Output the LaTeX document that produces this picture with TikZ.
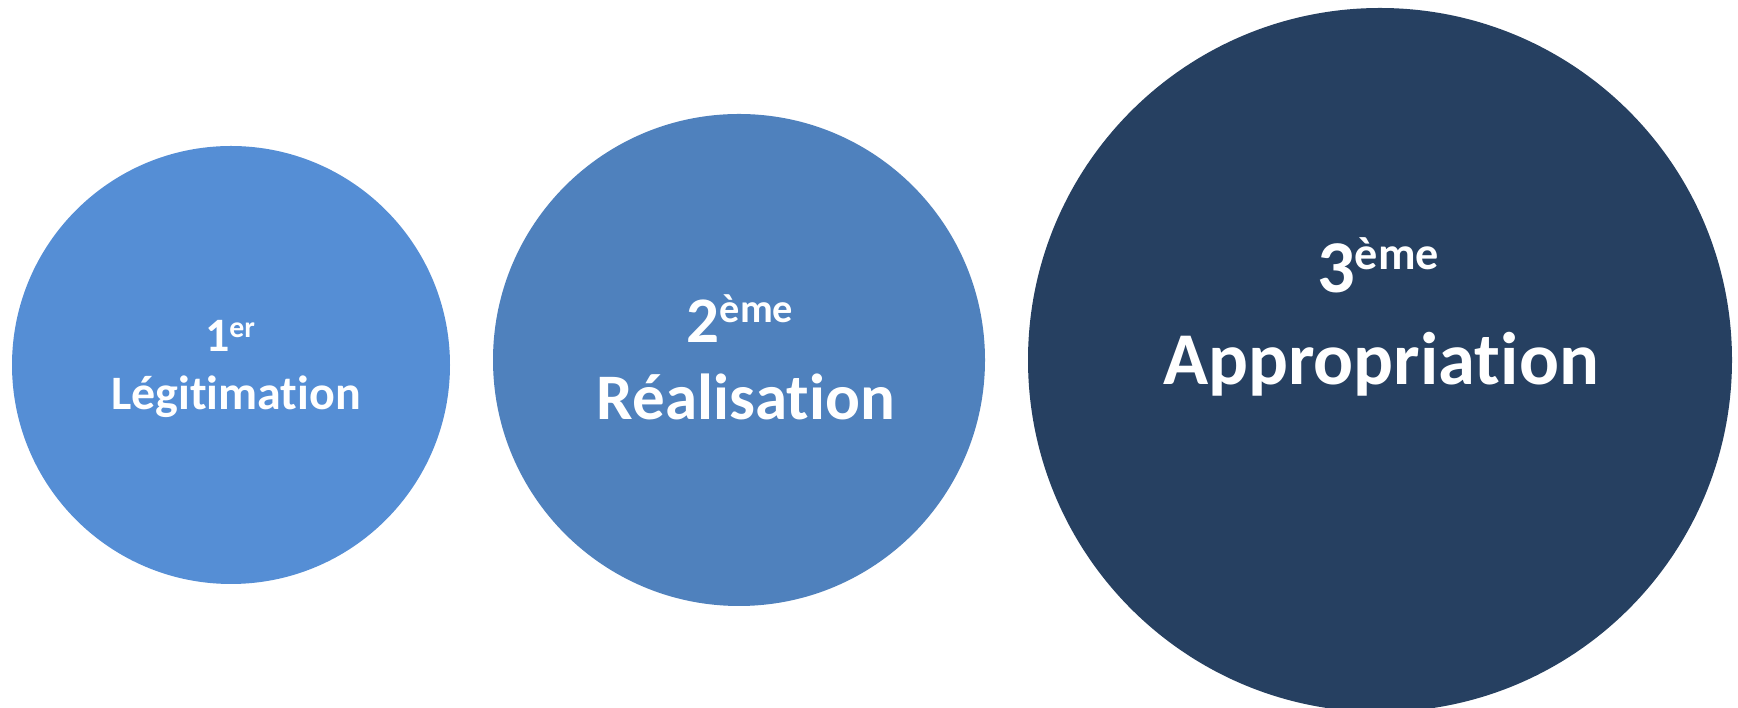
\documentclass[tikz,border=0pt]{standalone}
\usepackage{fontspec}
\setmainfont[Ligatures=NoCommon]{Carlito}
\definecolor{cOne}{RGB}{85,142,213}
\definecolor{cTwo}{RGB}{79,129,189}
\definecolor{cThree}{RGB}{38,64,97}
\makeatletter
\newcommand{\supx}[1]{{\dimen@=\f@size pt\dimen@=0.62\dimen@\raisebox{0.31em}{\fontsize{\dimen@}{\dimen@}\selectfont #1}}}
\makeatother
\tikzset{
  disc/.style={circle, inner sep=0pt, outer sep=0pt},
  lbl/.style={text=white, font=\bfseries, anchor=base, inner sep=0pt},
}
\begin{document}
\begin{tikzpicture}[x=1pt,y=1pt]
\useasboundingbox (0,0) rectangle (1738,708);
\clip (0,0) rectangle (1738,708);
\fill[white] (0,0) rectangle (1738,708);
\node[disc, fill=cOne, minimum size=438pt] (c1) at (231,343) {};
\node[disc, fill=cTwo, minimum size=492pt] (c2) at (739,348) {};
\node[disc, fill=cThree, minimum size=704pt] (c3) at (1380,348) {};
\node[lbl, font=\bfseries\fontsize{48}{58}\selectfont] (n1) at (230,356) {1\supx{er}};
\node[lbl, font=\bfseries\fontsize{48}{58}\selectfont] (t1) at (236,298) {Légitimation};
\node[lbl, font=\bfseries\fontsize{65}{78}\selectfont] (n2) at (740,365) {2\supx{ème}};
\node[lbl, font=\bfseries\fontsize{65}{78}\selectfont] (t2) at (746,288) {Réalisation};
\node[lbl, font=\bfseries\fontsize{74.5}{90}\selectfont] (n3) at (1378,415) {3\supx{ème}};
\node[lbl, font=\bfseries\fontsize{74.5}{90}\selectfont] (t3) at (1381,323) {Appropriation};
\end{tikzpicture}
\end{document}
